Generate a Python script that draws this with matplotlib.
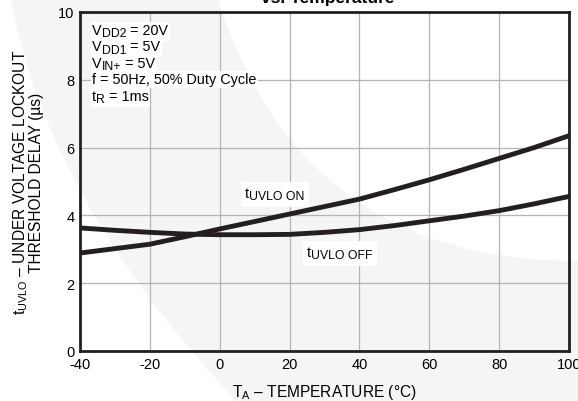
import matplotlib.pyplot as plt
from matplotlib.path import Path
from matplotlib.patches import PathPatch, Rectangle
from matplotlib.transforms import IdentityTransform

# values
temp = [-40, -30, -20, -10, 0, 10, 20, 30, 40, 50, 60, 70, 80, 90, 100]
t_on = [2.89, 3.02, 3.15, 3.37, 3.60, 3.82, 4.04, 4.26, 4.48, 4.76, 5.05, 5.36, 5.68, 6.00, 6.35]
t_off = [3.63, 3.56, 3.50, 3.45, 3.43, 3.43, 3.44, 3.50, 3.58, 3.70, 3.84, 3.98, 4.14, 4.34, 4.56]

# (text, is_subscript) pieces for each line of the conditions block
conditions = [
    [('V', False), ('DD2', True), (' = 20V', False)],
    [('V', False), ('DD1', True), (' = 5V', False)],
    [('V', False), ('IN+', True), (' = 5V', False)],
    [('f = 50Hz, 50% Duty Cycle', False)],
    [('t', False), ('R', True), (' = 1ms', False)],
]
on_label = [('t', False), ('UVLO ON', True)]
off_label = [('t', False), ('UVLO OFF', True)]

plt.rcParams['font.family'] = ['Liberation Sans', 'DejaVu Sans']
plt.rcParams['mathtext.fontset'] = 'custom'
plt.rcParams['mathtext.rm'] = 'Liberation Sans'
plt.rcParams['mathtext.default'] = 'regular'
plt.rcParams['axes.unicode_minus'] = False

W, H = 578, 402
fig = plt.figure(figsize=(W / 100, H / 100), dpi=100)
renderer = fig.canvas.get_renderer()


def fpx(x, y):
    return (x / W, 1 - y / H)


def rich(x, y, parts, size, pad=2):
    # x, y: left edge and baseline in pixels from the top-left corner
    x0 = x
    boxes = []
    for s, sub in parts:
        fs = size * 0.85 if sub else size
        dy = 2.5 if sub else 0
        t = fig.text(x0, H - y - dy, s, transform=IdentityTransform(), fontsize=fs,
                     va='baseline', ha='left', zorder=5)
        bb = t.get_window_extent(renderer)
        boxes.append(bb)
        x0 += bb.width
    x1 = min(b.x0 for b in boxes) - pad
    x2 = max(b.x1 for b in boxes) + pad
    y1 = min(b.y0 for b in boxes) - pad
    y2 = max(b.y1 for b in boxes) + pad
    fig.add_artist(Rectangle((x1, y1), x2 - x1, y2 - y1, transform=IdentityTransform(),
                             facecolor='white', edgecolor='none', zorder=4))


# faint watermark band in the background
verts = [fpx(11, 0), fpx(47, 200), fpx(236, 402), fpx(578, 402), fpx(578, 262),
         fpx(300, 262), fpx(218, 0), fpx(11, 0)]
codes = [Path.MOVETO, Path.CURVE3, Path.CURVE3, Path.LINETO, Path.LINETO,
         Path.CURVE3, Path.CURVE3, Path.CLOSEPOLY]
band = PathPatch(Path(verts, codes), transform=fig.transFigure,
                 facecolor='#f5f5f7', edgecolor='none', zorder=-5)
fig.add_artist(band)

ax = fig.add_axes([80 / W, 1 - 352 / H, (569 - 80) / W, (352 - 13) / H])
ax.set_facecolor('none')

ax.plot(temp, t_on, color='#231f20', lw=3.5, zorder=3)
ax.plot(temp, t_off, color='#231f20', lw=3.5, zorder=3)

ax.set_xlim(-40, 100)
ax.set_ylim(0, 10)
ax.set_xticks(range(-40, 101, 20))
ax.set_yticks(range(0, 11, 2))
ax.grid(color='#b4b4b4', lw=0.9)
ax.set_axisbelow(True)
ax.tick_params(length=0, labelsize=10.5, pad=4)
for s in ax.spines.values():
    s.set_linewidth(2)
    s.set_color('#231f20')
    s.set_zorder(4)

ax.set_xlabel(r'T$_A$ – TEMPERATURE (°C)', fontsize=11.2, labelpad=8)
ax.set_ylabel('t$_{UVLO}$ – UNDER VOLTAGE LOCKOUT\nTHRESHOLD DELAY (µs)',
              fontsize=11.2, labelpad=10, linespacing=0.95)

for parts, y in zip(conditions, [35, 51.5, 68, 84.5, 101]):
    rich(92, y, parts, 10.4, pad=1.5)

rich(245, 198, on_label, 10.4, pad=4)
rich(307, 257, off_label, 10.4, pad=4)

fig.text(328 / W, 1 - 3 / H, 'vs. Temperature', fontsize=12.5, fontweight='bold',
         ha='center', va='baseline')

fig.savefig('out.png', dpi=100)
